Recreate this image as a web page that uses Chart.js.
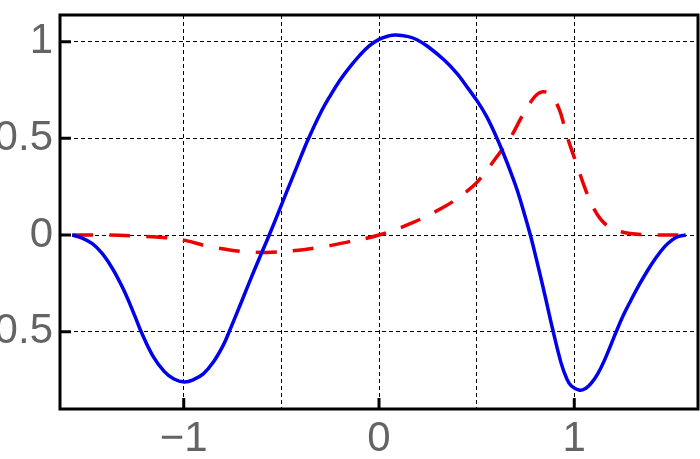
<!DOCTYPE html>
<html><head><meta charset="utf-8">
<script src="https://cdn.jsdelivr.net/npm/chart.js@4/dist/chart.umd.min.js"></script>
<style>html,body{margin:0;padding:0;background:#fff;} canvas{display:block;}</style>
</head><body>
<canvas id="c" width="700" height="459"></canvas>
<script>
// Solid blue curve
const blueX = [-1.571,-1.52,-1.468,-1.42,-1.382,-1.35,-1.30,-1.25,-1.218,-1.16,-1.10,-1.05,-0.997,-0.95,-0.90,-0.85,-0.80,-0.767,-0.70,-0.65,-0.60,-0.562,-0.50,-0.45,-0.40,-0.365,-0.30,-0.25,-0.20,-0.15,-0.10,-0.05,0.0,0.05,0.086,0.15,0.197,0.25,0.334,0.40,0.437,0.505,0.55,0.591,0.642,0.68,0.71,0.74,0.775,0.80,0.847,0.89,0.932,0.96,0.984,1.027,1.06,1.086,1.12,1.155,1.215,1.25,1.291,1.33,1.377,1.42,1.463,1.50,1.531,1.571];
const blueY = [0,-0.016,-0.045,-0.092,-0.146,-0.20,-0.30,-0.42,-0.50,-0.622,-0.705,-0.745,-0.760,-0.748,-0.718,-0.66,-0.575,-0.50,-0.335,-0.21,-0.09,0,0.155,0.28,0.405,0.49,0.630,0.72,0.80,0.868,0.928,0.978,1.012,1.030,1.035,1.026,1.009,0.975,0.905,0.835,0.785,0.690,0.615,0.530,0.410,0.310,0.225,0.125,0.0,-0.10,-0.30,-0.49,-0.660,-0.74,-0.780,-0.803,-0.792,-0.768,-0.718,-0.647,-0.50,-0.418,-0.336,-0.262,-0.181,-0.115,-0.060,-0.026,-0.008,0];
// Dashed red curve
const redX = [-1.571,-1.40,-1.25,-1.091,-0.989,-0.886,-0.784,-0.698,-0.578,-0.442,-0.305,-0.168,0.0,0.163,0.334,0.437,0.505,0.591,0.676,0.727,0.778,0.810,0.838,0.865,0.890,0.924,0.950,0.975,1.018,1.052,1.095,1.155,1.240,1.360,1.571];
const redY = [0,0,-0.005,-0.014,-0.029,-0.056,-0.074,-0.085,-0.090,-0.082,-0.064,-0.038,0.0,0.060,0.146,0.216,0.276,0.388,0.509,0.604,0.690,0.728,0.741,0.735,0.712,0.647,0.560,0.474,0.350,0.250,0.146,0.060,0.017,0.002,0];

const xGridValues = [-1,-0.5,0,0.5,1];
const xTickValues = [-1,0,1];
const xTickLabels = ['\u22121','0','1'];
const yTickValues = [-0.5,0,0.5,1];
const yTickLabels = ['\u22120.5','0','0.5','1'];
const xRange = [-1.6336, 1.6336];
const yRange = [-0.900, 1.138];

function pts(xs, ys){ return xs.map((x,i)=>({x:x, y:ys[i]})); }

const frameTicks = {
  id:'frameTicks',
  afterDraw(chart){
    const ctx = chart.ctx, a = chart.chartArea, x = chart.scales.x, y = chart.scales.y;
    ctx.save();
    ctx.strokeStyle='#000'; ctx.lineWidth=3; ctx.setLineDash([]); ctx.lineCap='butt';
    ctx.beginPath();
    xTickValues.forEach(v=>{ const px = x.getPixelForValue(v); ctx.moveTo(px, a.bottom); ctx.lineTo(px, a.bottom-11); });
    yTickValues.forEach(v=>{ const py = y.getPixelForValue(v); ctx.moveTo(a.left, py); ctx.lineTo(a.left+11, py); });
    ctx.stroke();
    ctx.strokeRect(a.left, a.top, a.right-a.left, a.bottom-a.top);
    ctx.restore();
  }
};

const font = {size:42, family:"'Liberation Sans', Arial, sans-serif"};

new Chart(document.getElementById('c'), {
  type:'line',
  data:{datasets:[
    {data:pts(blueX,blueY), borderColor:'rgb(0,0,235)', borderWidth:3.5, pointRadius:0, tension:0.4, fill:false},
    {data:pts(redX,redY), borderColor:'rgb(238,0,0)', borderWidth:3.5, borderDash:[21,16], pointRadius:0, tension:0.4, fill:false}
  ]},
  options:{
    responsive:false, animation:false, devicePixelRatio:1,
    layout:{padding:{top:15,right:2,left:0,bottom:0}},
    plugins:{legend:{display:false}, tooltip:{enabled:false}},
    scales:{
      x:{type:'linear', min:xRange[0], max:xRange[1],
        afterBuildTicks:s=>{ s.ticks = xGridValues.map(v=>({value:v})); },
        afterFit:s=>{ s.height = 50; s.paddingLeft = 0; s.paddingRight = 0; },
        grid:{color:'#000', lineWidth:1, drawTicks:false},
        border:{display:false, dash:[4,3]},
        ticks:{padding:5, font:font, color:'#646464', maxRotation:0, autoSkip:false,
          callback:v=>{ const i = xTickValues.indexOf(v); return i>=0 ? xTickLabels[i] : ''; }}
      },
      y:{type:'linear', min:yRange[0], max:yRange[1],
        afterBuildTicks:s=>{ s.ticks = yTickValues.map(v=>({value:v})); },
        afterFit:s=>{ s.width = 60; s.paddingTop = 0; s.paddingBottom = 0; },
        grid:{color:'#000', lineWidth:1, drawTicks:false},
        border:{display:false, dash:[4,3]},
        ticks:{padding:7, font:font, color:'#646464', autoSkip:false,
          callback:v=>{ const i = yTickValues.indexOf(v); return i>=0 ? yTickLabels[i] : ''; }}
      }
    }
  },
  plugins:[frameTicks]
});
</script>
</body></html>
